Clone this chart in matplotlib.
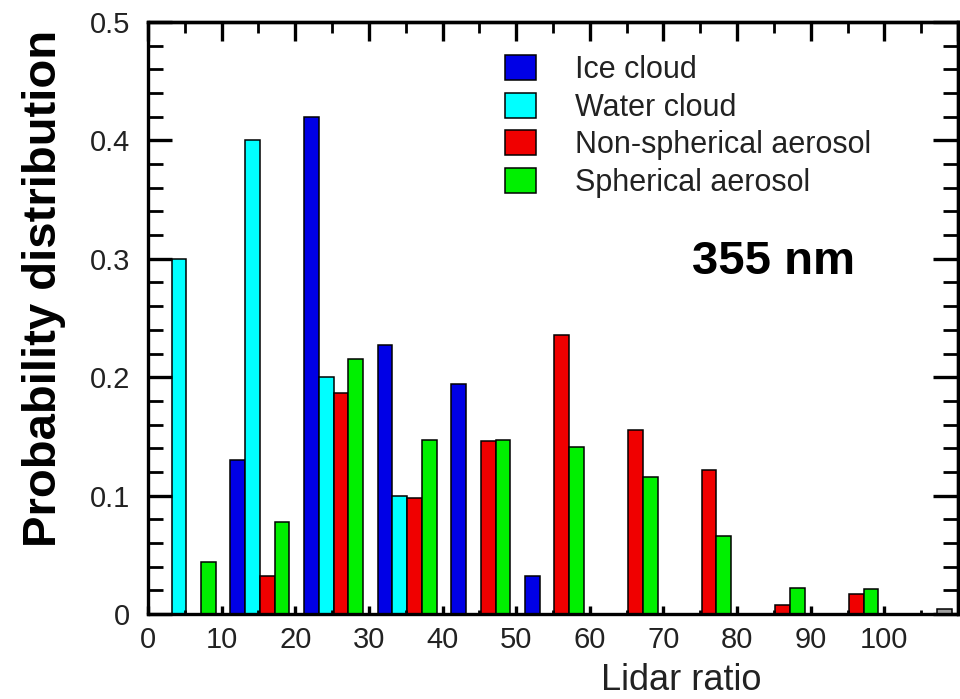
import numpy as np
import matplotlib
matplotlib.use("Agg")
import matplotlib.pyplot as plt
from matplotlib.ticker import MultipleLocator

plt.rcParams['font.family'] = ['Liberation Sans', 'DejaVu Sans']

# lidar ratio bins (left edge of each 10-wide bin)
bins = np.arange(0, 110, 10)

ice_cloud = [0.0, 0.13, 0.42, 0.227, 0.194, 0.032, 0.0, 0.0, 0.0, 0.0, 0.0]
water_cloud = [0.30, 0.40, 0.20, 0.10, 0.0, 0.0, 0.0, 0.0, 0.0, 0.0, 0.0]
nonsph_aerosol = [0.0, 0.032, 0.187, 0.098, 0.146, 0.236, 0.155, 0.122, 0.008, 0.017, 0.0]
sph_aerosol = [0.044, 0.078, 0.215, 0.147, 0.147, 0.141, 0.116, 0.066, 0.022, 0.021, 0.004]

labels = ["Ice cloud", "Water cloud", "Non-spherical aerosol", "Spherical aerosol"]
series = [ice_cloud, water_cloud, nonsph_aerosol, sph_aerosol]
colors = ['#0000e6', '#00ffff', '#f00000', '#00f000']
offsets = [2.2, 4.2, 6.2, 8.2]

fig = plt.figure(figsize=(9.6, 6.99), dpi=100)
ax = fig.add_axes([148/960, 1-614/699, (958-148)/960, (614-22)/699])

for vals, col, off, lab in zip(series, colors, offsets, labels):
    vals = np.array(vals)
    cols = [col] * len(vals)
    if lab == "Spherical aerosol":
        cols[-1] = '#a0a0a0'  # last bin drawn grey in original
    m = vals > 0
    ax.bar(bins[m] + off, vals[m], width=2.0, color=np.array(cols)[m],
           edgecolor='black', linewidth=1.1, label=lab)

ax.set_xlim(0, 110)
ax.set_ylim(0, 0.5)
ax.set_xticks(np.arange(0, 101, 10))
ax.xaxis.set_minor_locator(MultipleLocator(5))
ax.set_yticks(np.arange(0, 0.51, 0.1))
ax.set_yticklabels(['0', '0.1', '0.2', '0.3', '0.4', '0.5'])
ax.yaxis.set_minor_locator(MultipleLocator(0.02))

for s in ax.spines.values():
    s.set_linewidth(2.4)

ax.tick_params(axis='x', which='major', direction='in', length=6, width=2.4,
               labelsize=21, pad=9, labelcolor='#222222')
ax.tick_params(axis='x', which='minor', direction='in', length=3, width=2)
ax.tick_params(axis='y', which='major', direction='in', length=17, width=2.4,
               labelsize=21, pad=13, labelcolor='#222222')
ax.tick_params(axis='y', which='minor', direction='in', length=11, width=2)

top = ax.secondary_xaxis('top')
top.set_xticks(np.arange(0, 111, 10))
top.xaxis.set_minor_locator(MultipleLocator(5))
top.tick_params(which='major', direction='in', length=14, width=2.4, labeltop=False)
top.tick_params(which='minor', direction='in', length=8, width=2)
top.spines['top'].set_linewidth(2.4)

right = ax.secondary_yaxis('right')
right.set_yticks(np.arange(0, 0.51, 0.1))
right.yaxis.set_minor_locator(MultipleLocator(0.02))
right.tick_params(which='major', direction='in', length=18, width=2.4, labelright=False)
right.tick_params(which='minor', direction='in', length=11, width=2)
right.spines['right'].set_linewidth(2.4)

ax.legend(loc='upper left', bbox_to_anchor=(505/960, 1-55/699),
          bbox_transform=fig.transFigure, frameon=False, fontsize=22,
          handlelength=1.0, handleheight=0.9, handletextpad=1.3,
          labelspacing=0.24, borderpad=0, borderaxespad=0, labelcolor='#222222')

fig.text(773/960, 1-262/699, "355 nm", fontsize=34, fontweight='bold',
         ha='center', va='center')
fig.text(44/960, 1-288/699, "Probability distribution", fontsize=34,
         fontweight='bold', rotation=90, ha='center', va='center')
fig.text(681/960, 1-680/699, "Lidar ratio", fontsize=26, ha='center',
         va='center', color='#222222')

fig.savefig('out.png', dpi=100)
